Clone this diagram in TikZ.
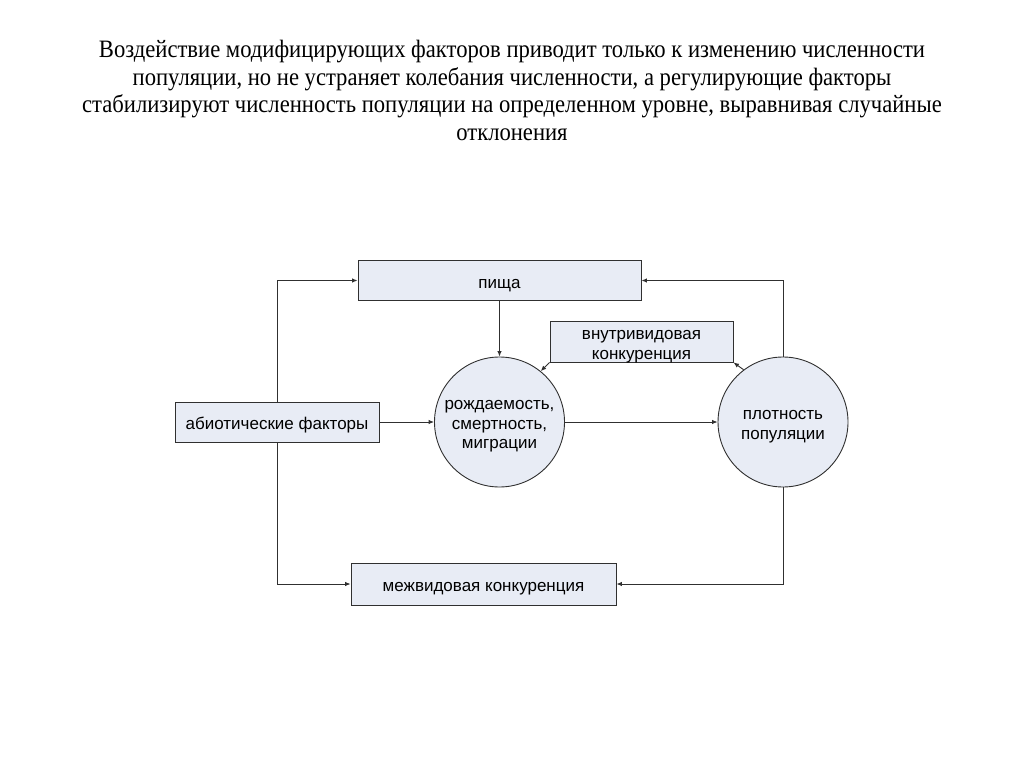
\documentclass[tikz,border=0pt]{standalone}
\usepackage{fontspec}
\setmainfont{Liberation Sans}
\newfontfamily\titlefont[FakeStretch=0.905]{Liberation Serif}
\usetikzlibrary{arrows.meta}
\definecolor{boxfill}{HTML}{E8ECF5}
\definecolor{linec}{HTML}{303030}
\newcommand\lowtxt[1]{\raisebox{-3.5pt}[\height][\depth]{\begin{tabular}{@{}c@{}}#1\end{tabular}}}
\begin{document}
\begin{tikzpicture}[x=1pt,y=-1pt,
  box/.style={draw=linec,fill=boxfill,line width=0.9pt,inner sep=0pt,font=\fontsize{17}{20}\selectfont},
  circ/.style={circle,draw=linec,fill=boxfill,line width=0.9pt,minimum size=130pt,inner sep=0pt,font=\fontsize{17}{19.5}\selectfont},
  arr/.style={draw=linec,line width=0.9pt,-{Latex[length=5.5pt,width=4.5pt]}}]
\useasboundingbox (0,0) rectangle (1024,767);
\node[font=\titlefont\fontsize{25}{27.5}\selectfont,align=center,anchor=north] (title) at (512,37)
 {Воздействие модифицирующих факторов приводит только к изменению численности\\
  популяции, но не устраняет колебания численности, а регулирующие факторы\\
  стабилизируют численность популяции на определенном уровне, выравнивая случайные\\
  отклонения};
\node[box,minimum width=283pt,minimum height=40pt] (pisha) at (499.5,280.5) {\lowtxt{пища}};
\node[box,minimum width=183pt,minimum height=41pt] (vnutr) at (641.5,341.5) {\lowtxt{внутривидовая\\конкуренция}};
\node[box,minimum width=204pt,minimum height=40pt] (abio) at (277,422) {\lowtxt{абиотические факторы}};
\node[box,minimum width=265pt,minimum height=42pt] (mezh) at (483.5,584) {\lowtxt{межвидовая конкуренция}};
\node[circ] (c1) at (499.5,422) {\lowtxt{рождаемость,\\смертность,\\миграции}};
\node[circ] (c2) at (783,422) {\lowtxt{плотность\\популяции}};
\draw[arr] (pisha) -- (c1);
\draw[arr] (abio) -- (c1);
\draw[arr] (c1) -- (c2);
\draw[arr] (abio.north) |- (pisha.west);
\draw[arr] (abio.south) |- (mezh.west);
\draw[arr] (c2.north) |- (pisha.east);
\draw[arr] (c2.south) |- (mezh.east);
\draw[arr] (c2.127) -- (vnutr.south east);
\draw[arr] (vnutr.south west) -- (c1.51);
\end{tikzpicture}
\end{document}
